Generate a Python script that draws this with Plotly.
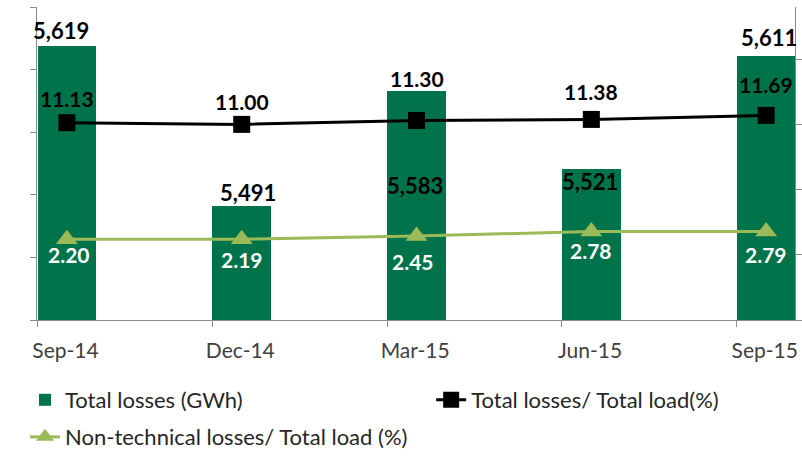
import plotly.graph_objects as go

# Quarterly loss figures
quarters = ["Sep-14", "Dec-14", "Mar-15", "Jun-15", "Sep-15"]
total_losses_gwh = [5619, 5491, 5583, 5521, 5611]
total_loss_pct = [11.13, 11.00, 11.30, 11.38, 11.69]
nontech_loss_pct = [2.20, 2.19, 2.45, 2.78, 2.79]

# Label placement (pixel offsets from each mark)
bar_label_dy = [15, 14, -95, -13, 18]
bar_label_dx = [-6, 6, -2, -1, 3]
pct_label_dy = [24, 23, 42, 28, 31]
nontech_label_dy = [-15, -20, -26, -19, -23]
nontech_label_dx = [2, 0, -4, 0, 0]

FONT = "Lato"
BAR_GREEN = "#00734B"
LIGHT_GREEN = "#9BBB59"
AXIS_GREY = "#8C8C8C"
BAR_WIDTH = 0.336

x = list(range(len(quarters)))

fig = go.Figure()

fig.add_trace(go.Bar(
    x=x, y=total_losses_gwh, width=BAR_WIDTH,
    marker=dict(color=BAR_GREEN, line=dict(width=0)),
    name="Total losses (GWh)", legend="legend",
    hoverinfo="skip",
))
fig.add_trace(go.Scatter(
    x=x, y=total_loss_pct, yaxis="y2", mode="lines+markers",
    line=dict(color="#000000", width=3),
    marker=dict(symbol="square", size=17, color="#000000"),
    name="Total losses/ Total load(%)", legend="legend2",
))
fig.add_trace(go.Scatter(
    x=x, y=nontech_loss_pct, yaxis="y2", mode="lines+markers",
    line=dict(color=LIGHT_GREEN, width=3),
    marker=dict(symbol="triangle-up", size=19, color=LIGHT_GREEN),
    name="Non-technical losses/ Total load (%)", legend="legend3",
))

annotations = []
for i, v in enumerate(total_losses_gwh):
    annotations.append(dict(
        x=i, y=v, xref="x", yref="y", text=f"<b>{v:,}</b>",
        showarrow=False, yshift=bar_label_dy[i], xshift=bar_label_dx[i],
        font=dict(family=FONT, size=22, color="#000000"),
    ))
for i, v in enumerate(total_loss_pct):
    annotations.append(dict(
        x=i, y=v, xref="x", yref="y2", text=f"<b>{v:.2f}</b>",
        showarrow=False, yshift=pct_label_dy[i],
        font=dict(family=FONT, size=21, color="#000000"),
    ))
for i, v in enumerate(nontech_loss_pct):
    annotations.append(dict(
        x=i, y=v, xref="x", yref="y2", text=f"<b>{v:.2f}</b>",
        showarrow=False, yshift=nontech_label_dy[i], xshift=nontech_label_dx[i],
        font=dict(family=FONT, size=21, color="#FFFFFF"),
    ))

legend_font = dict(family=FONT, size=22, color="#262626")
legend_common = dict(
    orientation="h", xanchor="left", yanchor="middle",
    font=legend_font, bgcolor="rgba(0,0,0,0)",
)

fig.update_layout(
    width=802, height=456,
    margin=dict(l=37, r=7, t=7, b=136, autoexpand=False),
    paper_bgcolor="white", plot_bgcolor="white",
    font=dict(family=FONT, color="#404040"),
    bargap=0,
    showlegend=True,
    annotations=annotations,
    xaxis=dict(
        range=[-0.171, 4.165],
        tickvals=[i - BAR_WIDTH / 2 for i in x], ticktext=quarters,
        ticklabelshift=28, ticklabelstandoff=6,
        ticks="outside", ticklen=6, tickcolor=AXIS_GREY,
        showline=True, linecolor=AXIS_GREY, linewidth=1,
        showgrid=False, zeroline=False,
        tickfont=dict(family=FONT, size=21, color="#404040"),
    ),
    yaxis=dict(
        range=[5400, 5650], tickvals=[5400, 5450, 5500, 5550, 5600, 5650],
        showticklabels=False, ticks="outside", ticklen=6, tickcolor=AXIS_GREY,
        showline=True, linecolor=AXIS_GREY, linewidth=1,
        showgrid=False, zeroline=False,
    ),
    yaxis2=dict(
        overlaying="y", side="right", range=[-4, 20],
        tickvals=[-4, 1, 6, 11, 16],
        showticklabels=False, ticks="outside", ticklen=6, tickcolor=AXIS_GREY,
        showline=True, linecolor=AXIS_GREY, linewidth=1,
        showgrid=False, zeroline=False,
    ),
    legend=dict(x=-0.0158, y=-0.2556, **legend_common),
    legend2=dict(x=0.520, y=-0.2556, **legend_common),
    legend3=dict(x=-0.0158, y=-0.374, **legend_common),
)

fig.write_html("out.html")
